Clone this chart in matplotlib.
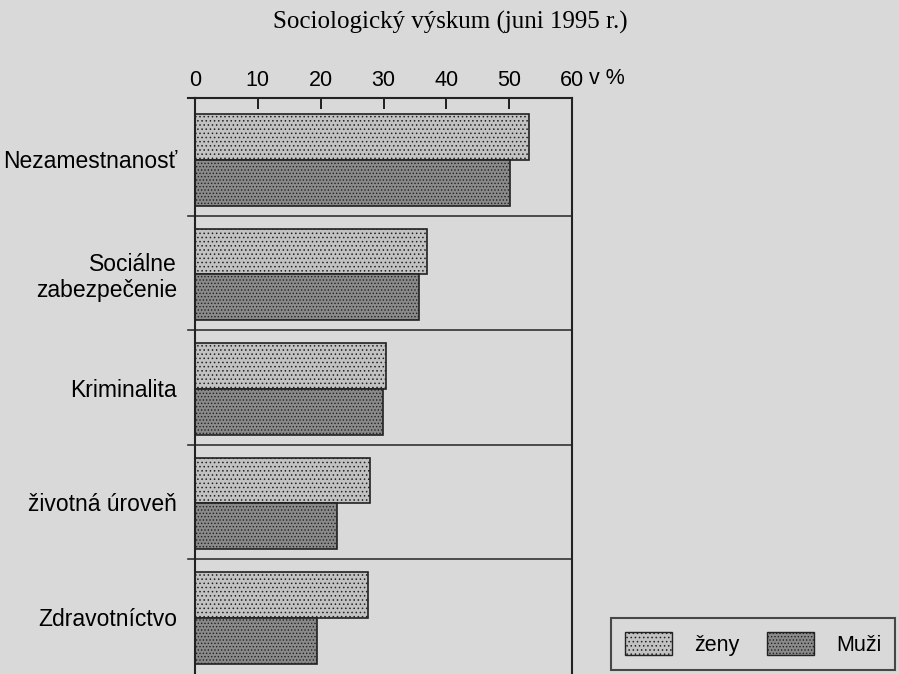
import numpy as np
import matplotlib.pyplot as plt
from matplotlib.patches import Patch

# údaje odčítané z grafu (v %)
kategorie = ['Nezamestnanosť', 'Sociálne\nzabezpečenie', 'Kriminalita',
             'životná úroveň', 'Zdravotníctvo']
zeny = [53.2, 36.9, 30.4, 27.9, 27.5]
muzi = [50.2, 35.7, 29.9, 22.6, 19.4]
tiky = [0, 10, 20, 30, 40, 50, 60]

pozadie = '#d9d9d9'
farba_zeny = '#c2c2c2'
farba_muzi = '#8a8a8a'

plt.rcParams['hatch.linewidth'] = 0.6
plt.rcParams['font.family'] = ['Liberation Sans', 'DejaVu Sans']

fig = plt.figure(figsize=(8.99, 6.74), dpi=100, facecolor=pozadie)
ax = fig.add_axes([195 / 899, 0.0, 377 / 899, 576 / 674])
ax.set_facecolor(pozadie)

y = np.arange(len(kategorie))
ax.barh(y + 0.31, zeny, height=0.40, color=farba_zeny, edgecolor='#222222',
        linewidth=1.2, hatch='....')
ax.barh(y + 0.71, muzi, height=0.40, color=farba_muzi, edgecolor='#222222',
        linewidth=1.2, hatch='.....')

# deliace čiary medzi skupinami
for i in range(1, len(kategorie)):
    ax.plot([-1.1, 60], [i, i], color='#333333', lw=1.2, clip_on=False)
ax.plot([-1.1, 0], [-0.03, -0.03], color='#222222', lw=1.5, clip_on=False)

ax.set_xlim(0, 60)
ax.set_ylim(5.0, -0.03)
ax.xaxis.tick_top()
ax.set_xticks(tiky)
ax.set_xticklabels([str(t) for t in tiky], fontsize=15.5)
ax.tick_params(axis='x', direction='in', length=8, width=1.2, pad=5)
ax.set_yticks(y + 0.5)
ax.set_yticklabels(kategorie, fontsize=16.5, linespacing=1.2)
ax.tick_params(axis='y', length=0, pad=13)
for s in ['top', 'left', 'right']:
    ax.spines[s].set_linewidth(1.5)
    ax.spines[s].set_color('#222222')
ax.spines['bottom'].set_visible(False)

fig.text(589 / 899, 1 - 79 / 674, 'v %', fontsize=15.5, ha='left', va='center')
fig.text(450 / 899, 1 - 22 / 674, 'Sociologický výskum (juni 1995 r.)',
         family='Liberation Serif', fontsize=18, ha='center', va='center')

# legenda
ruky = [Patch(facecolor=farba_zeny, edgecolor='#222222', hatch='....', label='ženy'),
        Patch(facecolor=farba_muzi, edgecolor='#222222', hatch='.....', label='Muži')]
leg = fig.legend(handles=ruky, loc='lower left', bbox_to_anchor=(611 / 899, 0.006),
                 ncol=2, fontsize=15.5, frameon=True, fancybox=False,
                 handlelength=2.2, handleheight=1.3, columnspacing=1.3,
                 borderpad=0.65, handletextpad=1.0, borderaxespad=0.0)
leg.get_frame().set_edgecolor('#222222')
leg.get_frame().set_linewidth(1.5)
leg.get_frame().set_facecolor(pozadie)

fig.savefig('out.png', dpi=100, facecolor=pozadie)
